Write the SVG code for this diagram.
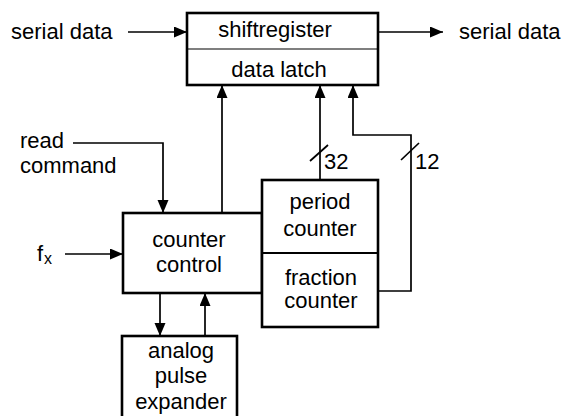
<svg xmlns="http://www.w3.org/2000/svg" width="567" height="416" viewBox="0 0 567 416">
<style>
text{font-family:"Liberation Sans",Arial,Helvetica,sans-serif;font-size:22px;fill:#000}
.box{fill:#fff;stroke:#000;stroke-width:2.6}
.div{stroke:#000;stroke-width:1.2;fill:none}
.div2{stroke:#000;stroke-width:2.2;fill:none}
.c{fill:none;stroke:#000;stroke-width:1.7}
.arr{marker-end:url(#ah)}
.m{text-anchor:middle}
</style>
<defs>
<marker id="ah" markerUnits="userSpaceOnUse" markerWidth="14" markerHeight="12" refX="13" refY="5.5" orient="auto">
<path d="M0,0 L13,5.5 L0,11 z" fill="#000"/>
</marker>
</defs>
<g id="connectors">
<path class="c arr" d="M128,32 H187"/>
<path class="c arr" d="M379,32 H443"/>
<path class="c arr" d="M73,143 H163 V213"/>
<path class="c arr" d="M65,254 H123"/>
<path class="c arr" d="M222,213 V85"/>
<path class="c arr" d="M320,180 V85"/>
<path class="c" d="M310,161 L328,145"/>
<path class="c arr" d="M378,291 H411 V135 H353 V85"/>
<path class="c" d="M401,160 L419,143"/>
<path class="c arr" d="M160,293 V336"/>
<path class="c arr" d="M205,336 V293"/>
</g>
<g id="labels">
<text x="11" y="39">serial data</text>
<text x="459" y="39">serial data</text>
<text x="20" y="148">read</text>
<text x="20" y="173">command</text>
<text x="37" y="261">f</text>
<text x="44" y="264" style="font-size:16px">x</text>
<text x="324" y="169">32</text>
<text x="415" y="169">12</text>
</g>
<g id="shiftregister">
<rect class="box" x="187" y="13" width="191" height="72"/>
<line class="div" x1="187" y1="49" x2="378" y2="49"/>
<text class="m" x="275" y="37">shiftregister</text>
<text class="m" x="279" y="77">data latch</text>
</g>
<g id="counter-control">
<rect class="box" x="123" y="213" width="139" height="80"/>
<text class="m" x="189" y="247">counter</text>
<text class="m" x="189" y="272">control</text>
</g>
<g id="period-fraction-counter">
<rect class="box" x="262" y="180" width="116" height="147"/>
<line class="div2" x1="262" y1="253" x2="378" y2="253"/>
<text class="m" x="320" y="209">period</text>
<text class="m" x="320" y="236">counter</text>
<text class="m" x="321" y="285">fraction</text>
<text class="m" x="321" y="308">counter</text>
</g>
<g id="analog-pulse-expander">
<rect class="box" x="122" y="336" width="115" height="90"/>
<text class="m" x="181" y="358">analog</text>
<text class="m" x="181" y="383">pulse</text>
<text class="m" x="181" y="409">expander</text>
</g>
</svg>
